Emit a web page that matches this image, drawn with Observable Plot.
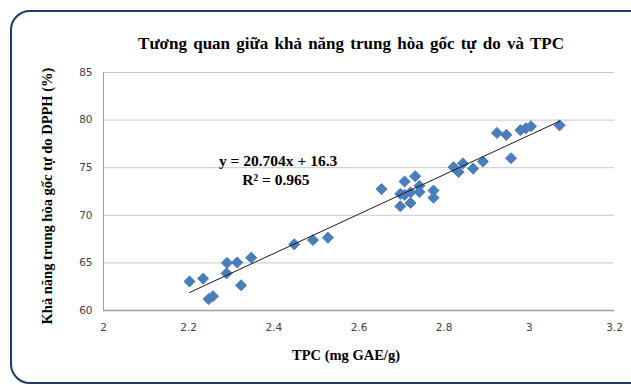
<!DOCTYPE html>
<html>
<head>
<meta charset="utf-8">
<script src="https://cdn.jsdelivr.net/npm/d3@7"></script>
<script src="https://cdn.jsdelivr.net/npm/@observablehq/plot@0.6"></script>
<style>
  body { margin:0; width:631px; height:385px; overflow:hidden; position:relative; background:#fff; }
  #frame { position:absolute; left:10px; top:10px; width:660px; height:370px; border:2.5px solid #1f3a68; border-radius:20px; }
  .serif { font-family:"Liberation Serif","Times New Roman",serif; font-weight:bold; color:#000; position:absolute; white-space:nowrap; }
  #title { top:34px; left:0; width:702px; text-align:center; font-size:17px; word-spacing:2px; }
  #xlabel { top:347px; left:0; width:692px; text-align:center; font-size:14.5px; }
  #ylabel { left:47px; top:196px; font-size:14.5px; transform:translate(-50%,-50%) rotate(-90deg); }
  #chart { position:absolute; left:0; top:0; }
</style>
</head>
<body>
<div id="frame"></div>
<div id="chart"></div>
<div id="title" class="serif">Tương quan giữa khả năng trung hòa gốc tự do và TPC</div>
<div id="xlabel" class="serif">TPC (mg GAE/g)</div>
<div id="ylabel" class="serif">Khả năng trung hòa gốc tự do DPPH (%)</div>
<script>
const tpc = [2.202, 2.234, 2.247, 2.257, 2.290, 2.289, 2.314, 2.323, 2.347, 2.448, 2.492, 2.527,
             2.653, 2.707, 2.732, 2.697, 2.707, 2.721, 2.742, 2.742, 2.775, 2.775, 2.697, 2.721,
             2.822, 2.834, 2.844, 2.868, 2.891, 2.924, 2.946, 2.957, 2.979, 2.992, 3.004, 3.071];
const dpph = [63.05, 63.35, 61.2, 61.5, 65.0, 63.9, 65.05, 62.65, 65.55, 66.95, 67.4, 67.65,
              72.75, 73.55, 74.1, 72.25, 72.15, 72.4, 73.1, 72.45, 72.6, 71.85, 70.95, 71.3,
              75.05, 74.55, 75.45, 74.9, 75.65, 78.65, 78.45, 76.0, 78.95, 79.15, 79.35, 79.45];
const xTicks = [2, 2.2, 2.4, 2.6, 2.8, 3, 3.2];
const yTicks = [60, 65, 70, 75, 80, 85];
const slope = 20.704, intercept = 16.3, r2 = 0.965;

const points = tpc.map((x, i) => ({x, y: dpph[i]}));
const xmin = d3.min(tpc), xmax = d3.max(tpc);
const trend = [xmin, xmax].map(x => ({x, y: slope * x + intercept}));
const labels = [
  {x: 2.41, y: 75.7, text: `y = ${slope}x + ${intercept}`},
  {x: 2.405, y: 73.7, text: `R² = ${r2}`}
];

const chart = Plot.plot({
  width: 631,
  height: 385,
  marginLeft: 103,
  marginRight: 17,
  marginTop: 72,
  marginBottom: 75,
  style: {fontFamily: "'DejaVu Sans', Verdana, sans-serif", fontSize: "10.5px", color: "#404040", background: "transparent"},
  x: {domain: [2, 3.2], ticks: xTicks, tickFormat: d => String(d)},
  y: {domain: [60, 85], ticks: yTicks},
  marks: [
    Plot.gridY(yTicks.filter(d => d > 60), {stroke: "#c8c8c8", strokeOpacity: 1, strokeWidth: 1}),
    Plot.ruleY([60], {stroke: "#a0a0a0", strokeWidth: 1.5}),
    Plot.ruleX([2], {stroke: "#a0a0a0", strokeWidth: 1}),
    Plot.axisY({ticks: yTicks, tickSize: 0, tickPadding: 11, label: null}),
    Plot.axisX({ticks: xTicks, tickSize: 0, tickPadding: 13, label: null, tickFormat: d => String(d)}),
    Plot.dot(points, {x: "x", y: "y", symbol: "diamond2", r: 5, fill: "#4a7ebb", stroke: "#4a7ebb", strokeWidth: 1}),
    Plot.line(trend, {x: "x", y: "y", stroke: "#1a1a1a", strokeWidth: 1}),
    Plot.text(labels, {x: "x", y: "y", text: "text", fontFamily: "'Liberation Serif', 'Times New Roman', serif", fontWeight: "bold", fontSize: 15.5, fill: "#000"})
  ]
});
document.getElementById("chart").appendChild(chart);
</script>
</body>
</html>
